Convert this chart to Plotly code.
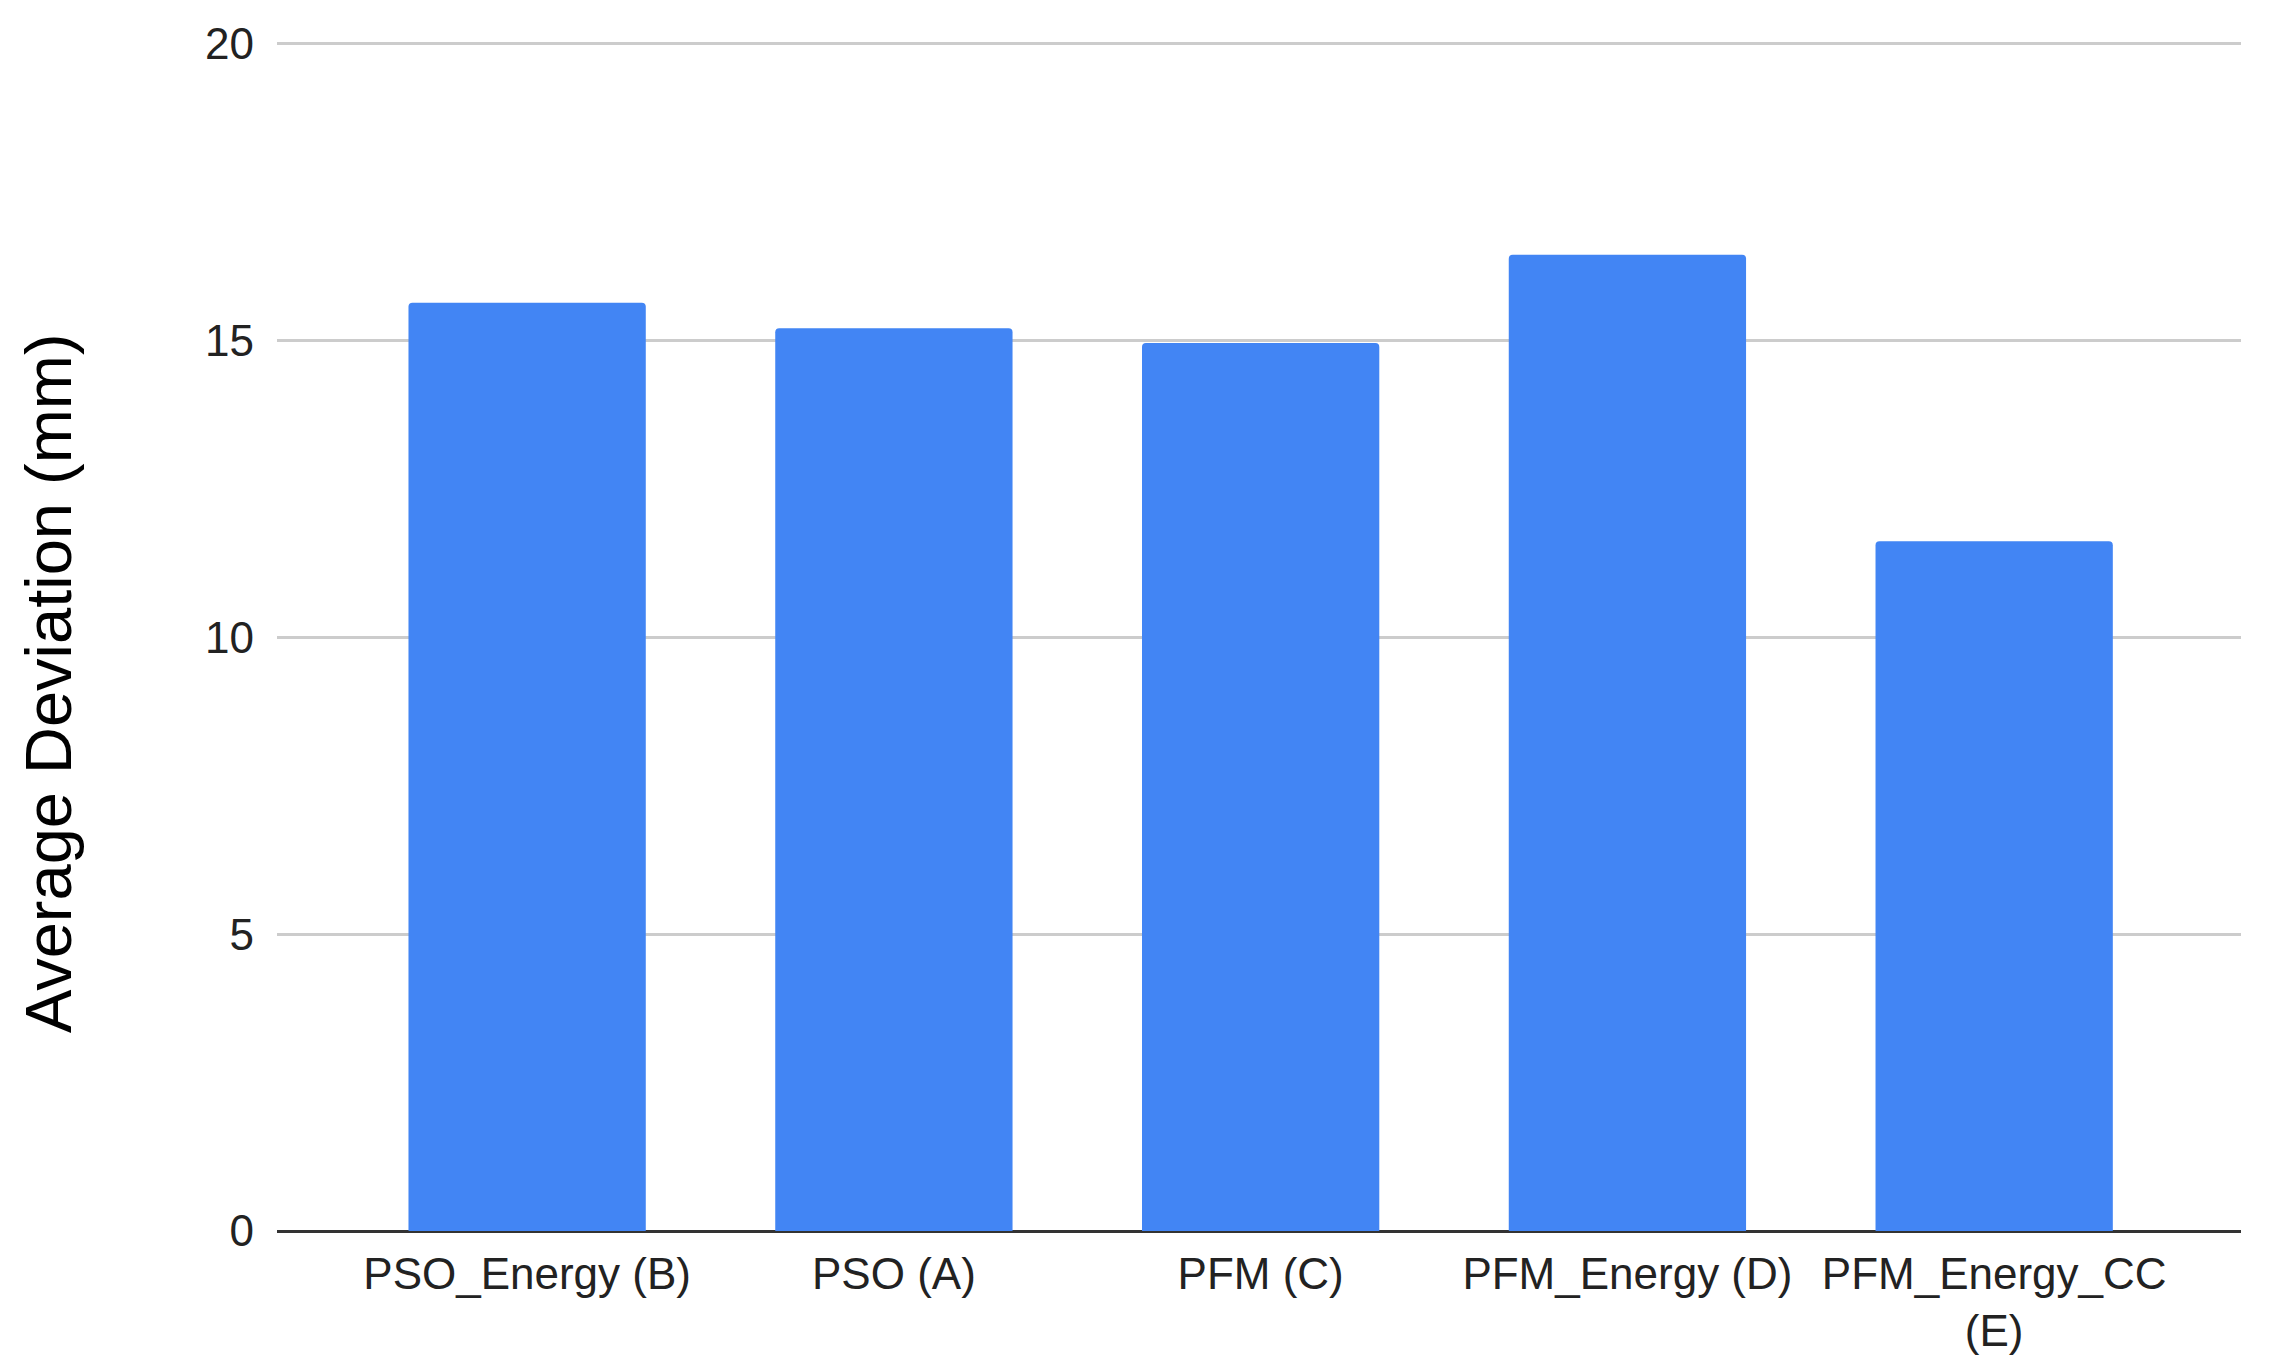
import plotly.graph_objects as go

categories = ["PSO_Energy (B)", "PSO (A)", "PFM (C)", "PFM_Energy (D)", "PFM_Energy_CC (E)"]
tick_labels = ["PSO_Energy (B)", "PSO (A)", "PFM (C)", "PFM_Energy (D)", "PFM_Energy_CC<br>(E)"]
values = [15.64, 15.21, 14.96, 16.45, 11.62]
y_ticks = [0, 5, 10, 15, 20]

# The page body has an 8px default margin, so the figure is sized to fit in
# the window and positions are offset by 8px.
OFF = 8
W, H = 2289 - OFF, 1359 - OFF
ML, MR, MT, MB = 277 - OFF, 48, 44 - OFF - 3, 128

fig = go.Figure()
fig.add_trace(go.Bar(
    x=categories,
    y=values,
    marker=dict(color="#4285F4", line=dict(width=0), cornerradius=4),
    hoverinfo="x+y",
))

font = "Arial, Liberation Sans, sans-serif"
fig.update_layout(
    width=W, height=H,
    margin=dict(l=ML, r=MR, t=MT, b=MB, pad=0, autoexpand=False),
    paper_bgcolor="white",
    plot_bgcolor="white",
    bargap=0.353,
    showlegend=False,
    font=dict(family=font, color="#222222"),
)
fig.update_xaxes(
    type="category",
    range=[-0.682, 4.673],
    tickmode="array",
    tickvals=categories,
    ticktext=tick_labels,
    tickfont=dict(size=44, color="#222222", family=font),
    showgrid=False,
    showline=False,
    ticks="",
    ticklabelstandoff=13,
    zeroline=False,
    automargin=False,
)
fig.update_yaxes(
    range=[0, 20.05],
    tickmode="array",
    tickvals=y_ticks,
    ticktext=[str(v) for v in y_ticks],
    tickfont=dict(size=44, color="#222222", family=font),
    showgrid=True,
    gridcolor="#cccccc",
    gridwidth=3,
    zeroline=True,
    zerolinecolor="#333333",
    zerolinewidth=3,
    showline=False,
    ticks="",
    ticklabelstandoff=22,
    automargin=False,
)
# y-axis title, centered vertically on the figure as in the reference
fig.add_annotation(
    text="Average Deviation (mm)",
    xref="paper", yref="paper",
    x=-(ML - (48 - OFF)) / (W - ML - MR), xanchor="center",
    y=1 - ((683 - OFF) - MT) / (H - MT - MB), yanchor="middle",
    textangle=-90,
    showarrow=False,
    font=dict(size=65, color="#000000", family=font),
)

fig.write_html("out.html")
